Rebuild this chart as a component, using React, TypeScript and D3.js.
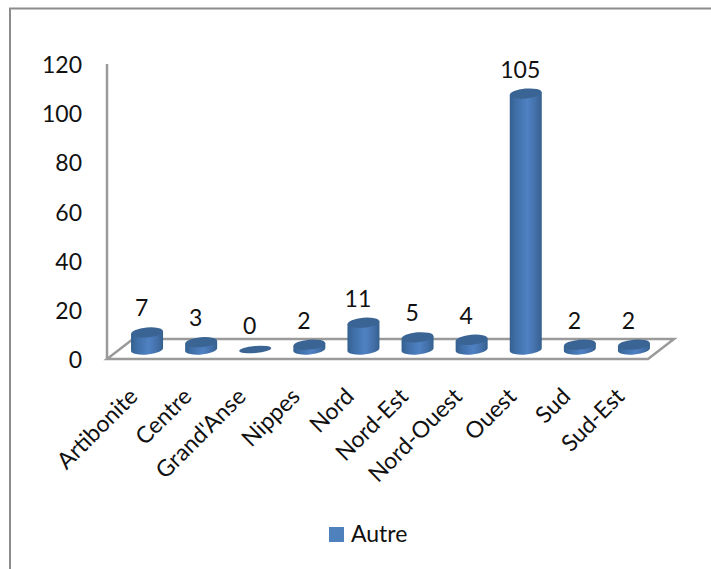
import { useEffect, useRef } from 'react';
import * as d3 from 'd3';

const regions = ['Artibonite', 'Centre', "Grand'Anse", 'Nippes', 'Nord', 'Nord-Est', 'Nord-Ouest', 'Ouest', 'Sud', 'Sud-Est'];
const counts = [7, 3, 0, 2, 11, 5, 4, 105, 2, 2];
const yTicks = [0, 20, 40, 60, 80, 100, 120];
const seriesName = 'Autre';

const WIDTH = 711;
const HEIGHT = 569;
const FONT = 'Lato, "Noto Sans", sans-serif';
const FONT_SIZE = 23;
const GREY = '#9a9a9a';
const FRAME = '#8c8c8c';
const TEXT = '#111';

export default function App() {
    const svgRef = useRef<SVGSVGElement>(null);

    useEffect(() => {
        if (!svgRef.current) return;
        const svg = d3.select(svgRef.current);
        svg.selectAll('*').remove();

        // Outer chart frame, only top and left are in the picture
        svg.append('path')
            .attr('d', `M10,${HEIGHT}V8.5H${WIDTH}`)
            .attr('fill', 'none')
            .attr('stroke', FRAME)
            .attr('stroke-width', 2);

        // Fake 3D depth of the floor
        const depthX = 26;
        const depthY = -20;
        const frontY = 359;

        const y = d3.scaleLinear().domain([0, 120]).range([frontY, 64]);
        // columns stand on the floor, so they get their own scale
        const yCol = d3.scaleLinear().domain([0, 120]).range([349.5, 57]);
        const x = d3.scaleBand<string>().domain(regions).range([107, 648]);

        const walls = svg.append('g')
            .attr('fill', 'none')
            .attr('stroke', GREY)
            .attr('stroke-width', 2.5);

        walls.append('path').attr('d', `M107,${y(120)}V${frontY}`);
        walls.append('path')
            .attr('stroke-linejoin', 'miter')
            .attr('d', `M107,${frontY}H648L${648 + depthX},${frontY + depthY}H${107 + depthX}Z`);

        // y axis labels
        svg.append('g')
            .selectAll('text')
            .data(yTicks)
            .join('text')
            .attr('x', 82)
            .attr('y', d => y(d) + 9)
            .attr('text-anchor', 'end')
            .attr('font-family', FONT)
            .attr('font-size', FONT_SIZE)
            .attr('fill', TEXT)
            .text(d => d);

        const defs = svg.append('defs');
        const grad = defs.append('linearGradient').attr('id', 'cyl');
        grad.append('stop').attr('offset', '0%').attr('stop-color', '#33608f');
        grad.append('stop').attr('offset', '18%').attr('stop-color', '#3f6ea6');
        grad.append('stop').attr('offset', '55%').attr('stop-color', '#4f81c3');
        grad.append('stop').attr('offset', '82%').attr('stop-color', '#436fa8');
        grad.append('stop').attr('offset', '100%').attr('stop-color', '#34608f');

        const colW = 32;
        const rx = colW / 2;
        const ry = 5;
        const tilt = -5;
        const lift = 1.4; // height gained across the tilted ellipse
        const centerShift = 13;

        const cols = svg.append('g')
            .selectAll('g')
            .data(regions.map((name, i) => ({ name, value: counts[i] })))
            .join('g')
            .attr('transform', d => `translate(${x(d.name)! + x.bandwidth() / 2 + centerShift},0)`);

        cols.filter(d => d.value > 0)
            .append('path')
            .attr('fill', 'url(#cyl)')
            .attr('d', d => {
                const bottom = yCol(0);
                const top = yCol(d.value);
                return `M${-rx},${top + lift}V${bottom + lift}A${rx},${ry} ${tilt} 0 0 ${rx},${bottom - lift}V${top - lift}Z`;
            });

        cols.append('ellipse')
            .attr('cx', 0)
            .attr('cy', d => yCol(d.value))
            .attr('rx', rx)
            .attr('ry', d => d.value === 0 ? 3.5 : ry)
            .attr('transform', d => `rotate(${tilt} 0 ${yCol(d.value)})`)
            .attr('fill', '#3a6493');

        // Value labels sit a bit left of the column centre
        cols.append('text')
            .attr('x', -5.5)
            .attr('y', d => yCol(d.value) - 16)
            .attr('text-anchor', 'middle')
            .attr('font-family', FONT)
            .attr('font-size', FONT_SIZE)
            .attr('fill', TEXT)
            .text(d => d.value);

        // Category labels, rotated 45deg and ending under each column
        svg.append('g')
            .selectAll('text')
            .data(regions)
            .join('text')
            .attr('transform', d => `translate(${x(d)! + x.bandwidth() / 2 + 5},398) rotate(-45)`)
            .attr('text-anchor', 'end')
            .attr('font-family', FONT)
            .attr('font-size', FONT_SIZE)
            .attr('fill', TEXT)
            .text(d => d);

        // Legend
        svg.append('rect')
            .attr('x', 329).attr('y', 527)
            .attr('width', 15).attr('height', 15)
            .attr('fill', '#4f81bd');
        svg.append('text')
            .attr('x', 351).attr('y', 542)
            .attr('font-family', FONT)
            .attr('font-size', FONT_SIZE)
            .attr('fill', TEXT)
            .text(seriesName);
    }, []);

    return (
        <svg
            ref={svgRef}
            width={WIDTH}
            height={HEIGHT}
            style={{ position: 'absolute', left: 0, top: 0, background: 'white' }}
        />
    );
}
